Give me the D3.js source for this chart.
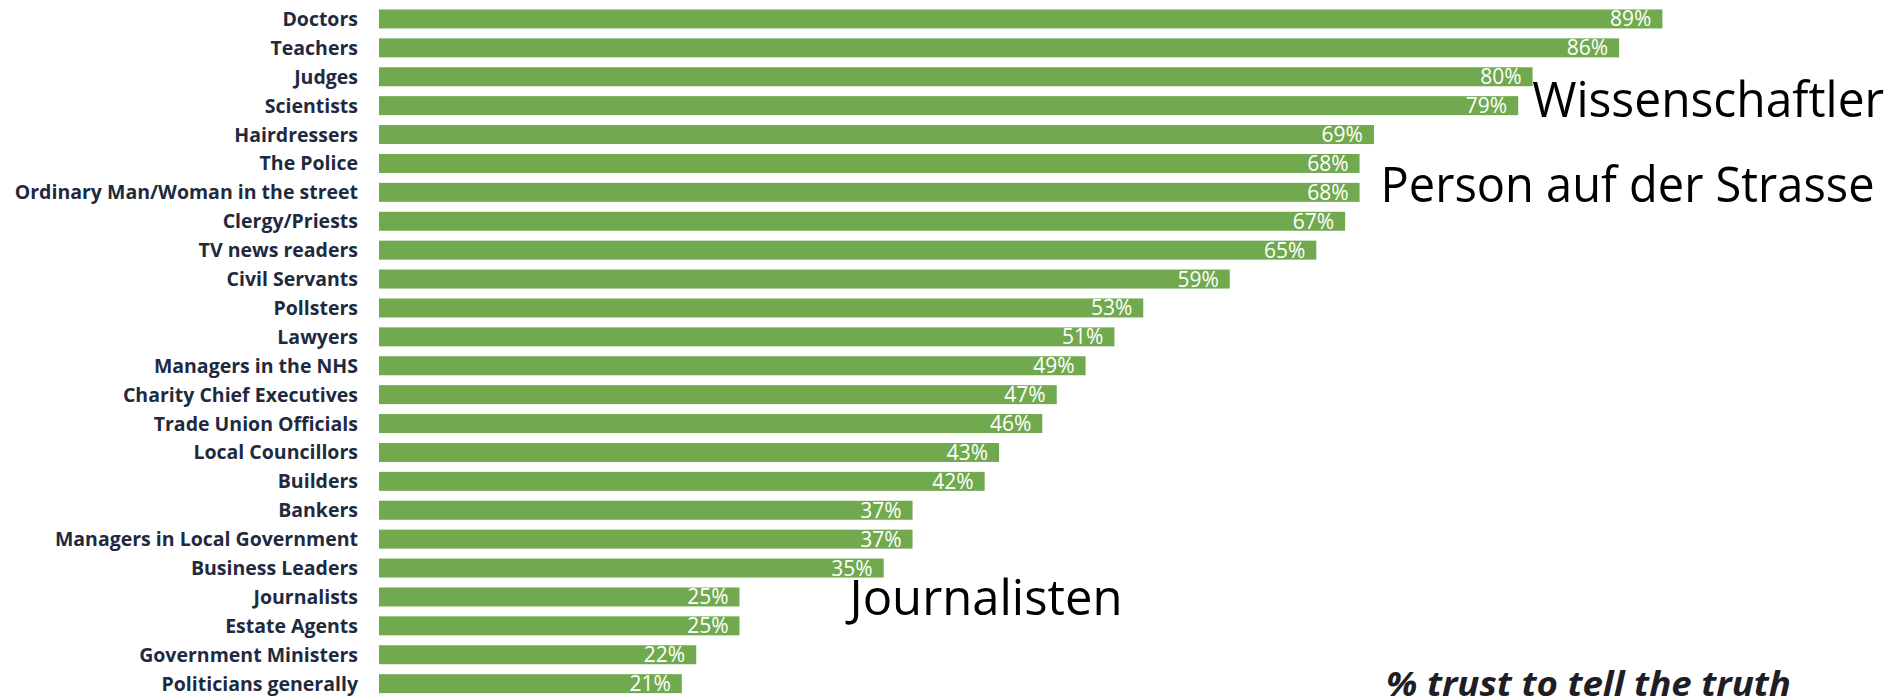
<!DOCTYPE html>
<html>
<head>
<meta charset="utf-8">
<script src="https://cdn.jsdelivr.net/npm/d3@7"></script>
<style>
  html, body { margin: 0; padding: 0; background: #fff; }
  svg { display: block; }
</style>
</head>
<body>
<svg id="chart" width="1893" height="699"></svg>
<script>
// trust in professions
var categories = ["Doctors", "Teachers", "Judges", "Scientists", "Hairdressers", "The Police",
  "Ordinary Man/Woman in the street", "Clergy/Priests", "TV news readers", "Civil Servants",
  "Pollsters", "Lawyers", "Managers in the NHS", "Charity Chief Executives", "Trade Union Officials",
  "Local Councillors", "Builders", "Bankers", "Managers in Local Government", "Business Leaders",
  "Journalists", "Estate Agents", "Government Ministers", "Politicians generally"];
var values = [89, 86, 80, 79, 69, 68, 68, 67, 65, 59, 53, 51, 49, 47, 46, 43, 42, 37, 37, 35, 25, 25, 22, 21];

// german notes put next to some bars
var noteTexts = ["Wissenschaftler", "Person auf der Strasse", "Journalisten"];
var noteCategories = ["Scientists", "Ordinary Man/Woman in the street", "Journalists"];

var caption = "% trust to tell the truth";

var data = categories.map(function(c, i) { return {cat: c, val: values[i]}; });

var svg = d3.select("#chart");

var x = d3.scaleLinear().domain([0, 100]).range([379, 1821]);
var y = d3.scaleBand()
    .domain(categories)
    .range([4.5, 698.1])
    .paddingInner(0.343)
    .paddingOuter(0.1715);

var green = "#71a94f";

// bars
svg.append("g").selectAll("rect")
    .data(data)
    .enter().append("rect")
      .attr("x", x(0))
      .attr("y", function(d) { return y(d.cat); })
      .attr("width", function(d) { return x(d.val) - x(0); })
      .attr("height", y.bandwidth())
      .attr("fill", green);

// category labels, left of the bars
svg.append("g").selectAll("text")
    .data(data)
    .enter().append("text")
      .attr("x", 358)
      .attr("y", function(d) { return y(d.cat) + y.bandwidth() / 2 + 7; })
      .attr("text-anchor", "end")
      .style("font-family", "'Open Sans', sans-serif")
      .style("font-weight", 700)
      .style("font-size", "19.5px")
      .style("fill", "#1f2a40")
      .text(function(d) { return d.cat; });

// value labels inside the bar ends
svg.append("g").selectAll("text")
    .data(data)
    .enter().append("text")
      .attr("x", function(d) { return x(d.val) - 11; })
      .attr("y", function(d) { return y(d.cat) + y.bandwidth() / 2 + 7.5; })
      .attr("text-anchor", "end")
      .style("font-family", "'Open Sans', sans-serif")
      .style("font-size", "21px")
      .style("fill", "#fff")
      .text(function(d) { return d.val + "%"; });

// the big notes; offsets tuned by eye
var noteOffsets = [[14, 21], [21, 19.5], [110, 28]];
var noteWidths = [352, 494, 273];
svg.append("g").selectAll("text")
    .data(noteTexts)
    .enter().append("text")
      .attr("x", function(d, i) {
        var v = values[categories.indexOf(noteCategories[i])];
        return x(v) + noteOffsets[i][0];
      })
      .attr("y", function(d, i) { return y(noteCategories[i]) + noteOffsets[i][1]; })
      .attr("textLength", function(d, i) { return noteWidths[i]; })
      .attr("lengthAdjust", "spacingAndGlyphs")
      .style("font-family", "'Open Sans', sans-serif")
      .style("font-size", "50px")
      .style("fill", "#000")
      .text(function(d) { return d; });

svg.append("text")
    .attr("x", 1386)
    .attr("y", 696)
    .attr("textLength", 405)
    .attr("lengthAdjust", "spacingAndGlyphs")
    .style("font-family", "'Open Sans', sans-serif")
    .style("font-weight", 700)
    .style("font-style", "italic")
    .style("font-size", "34px")
    .style("fill", "#1e1e24")
    .text(caption);
</script>
</body>
</html>
